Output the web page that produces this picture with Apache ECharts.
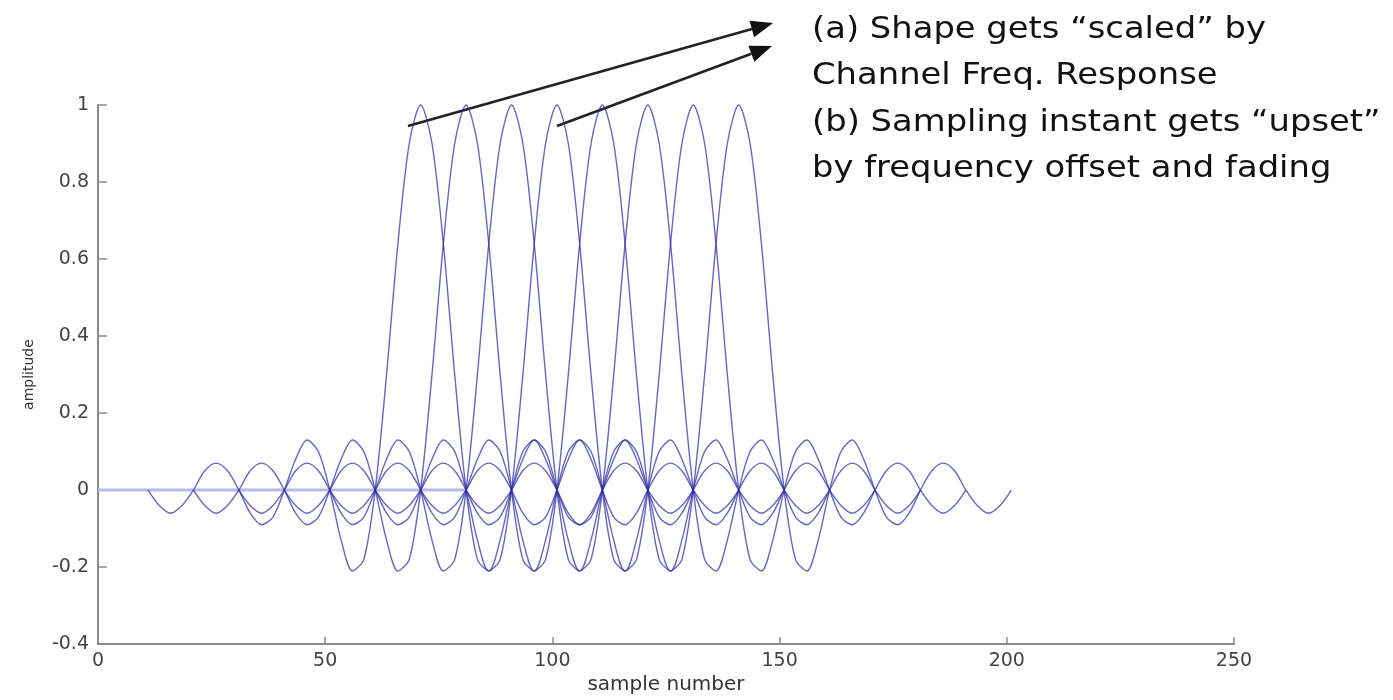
<!DOCTYPE html>
<html>
<head>
<meta charset="utf-8">
<title>sample number vs amplitude</title>
<script src="https://cdn.jsdelivr.net/npm/echarts@6/dist/echarts.min.js"></script>
<style>
  html, body { margin: 0; padding: 0; background: #fff; }
  #chart { width: 1393px; height: 700px; }
</style>
</head>
<body>
<div id="chart"></div>
<script>
// peak positions of the eight pulses (sample number)
let pulseCenters = [71, 81, 91, 101, 111, 121, 131, 141];

// pulse shape, relative to its peak
let pulseOffsets = [
  -60, -57.5, -55, -52.5, -50, -47.5, -45, -42.5, -40, -37.5, -35, -32.5,
  -30, -27.5, -25, -22.5, -20, -17.5, -15, -12.5, -10, -7.5, -5, -2.5,
  0,
  2.5, 5, 7.5, 10, 12.5, 15, 17.5, 20, 22.5, 25, 27.5, 30,
  32.5, 35, 37.5, 40, 42.5, 45, 47.5, 50, 52.5, 55, 57.5, 60
];
let pulseShape = [
  0, -0.04, -0.06, -0.04, 0, 0.05, 0.07, 0.05, 0, -0.06, -0.09, -0.07,
  0, 0.08, 0.13, 0.10, 0, -0.13, -0.21, -0.18, 0, 0.30, 0.64, 0.90,
  1,
  0.90, 0.64, 0.30, 0, -0.18, -0.21, -0.13, 0, 0.10, 0.13, 0.08, 0,
  -0.07, -0.09, -0.06, 0, 0.05, 0.07, 0.05, 0, -0.04, -0.06, -0.04, 0
];

// flat part of the trace on the left
let baselineX = [0, 81];
let baselineY = [0, 0];

let xTicks = { min: 0, max: 250, interval: 50 };
let yTicks = { min: -0.4, max: 1, interval: 0.2 };

let noteLines = [
  '(a) Shape gets \u201cscaled\u201d by',
  'Channel Freq. Response',
  '(b) Sampling instant gets \u201cupset\u201d',
  'by frequency offset and fading'
];

function arrow(x1, y1, x2, y2) {
  let dx = x2 - x1;
  let dy = y2 - y1;
  let len = Math.sqrt(dx * dx + dy * dy);
  let ux = dx / len;
  let uy = dy / len;
  let headLen = 22;
  let headHalf = 8.5;
  let bx = x2 - ux * headLen;
  let by = y2 - uy * headLen;
  return [
    {
      type: 'line',
      shape: { x1: x1, y1: y1, x2: bx, y2: by },
      style: { stroke: '#222', lineWidth: 2.6 }
    },
    {
      type: 'polygon',
      shape: {
        points: [
          [x2, y2],
          [bx - uy * headHalf, by + ux * headHalf],
          [bx + uy * headHalf, by - ux * headHalf]
        ]
      },
      style: { fill: '#111' }
    }
  ];
}

let chart = echarts.init(document.getElementById('chart'));

let series = pulseCenters.map(c => ({
  type: 'line',
  data: pulseOffsets.map((o, i) => [c + o, pulseShape[i]]),
  smooth: 0.3,
  symbol: 'none',
  clip: false,
  silent: true,
  lineStyle: { color: 'rgba(45, 45, 165, 0.72)', width: 1.4 }
}));

series.unshift({
  type: 'line',
  data: baselineX.map((x, i) => [x, baselineY[i]]),
  symbol: 'none',
  silent: true,
  lineStyle: { color: '#b8b8ea', width: 3 }
});

let graphics = [];
graphics = graphics.concat(arrow(408, 126, 773, 23));
graphics = graphics.concat(arrow(557, 126, 772, 46));

noteLines.forEach((t, i) => {
  graphics.push({
    type: 'text',
    x: 812,
    y: 14 + i * 46.5,
    scaleX: 1.09,
    style: {
      text: t,
      fill: '#111',
      font: '31px "DejaVu Sans"'
    }
  });
});

let option = {
  animation: false,
  backgroundColor: '#fff',
  grid: {
    left: 98,
    right: 159,
    top: 105,
    bottom: 43
  },
  xAxis: {
    type: 'value',
    min: xTicks.min,
    max: xTicks.max,
    interval: xTicks.interval,
    name: 'sample number',
    nameLocation: 'middle',
    nameGap: 24,
    nameTextStyle: { color: '#333', fontFamily: 'DejaVu Sans', fontSize: 20 },
    axisLine: { onZero: false, lineStyle: { color: '#8a8a8a', width: 2 } },
    axisTick: { inside: true, length: 7, lineStyle: { color: '#8a8a8a', width: 1.5 } },
    axisLabel: { color: '#444', fontFamily: 'DejaVu Sans', fontSize: 19, margin: 7 },
    splitLine: { show: false }
  },
  yAxis: {
    type: 'value',
    min: yTicks.min,
    max: yTicks.max,
    interval: yTicks.interval,
    name: 'amplitude',
    nameLocation: 'middle',
    nameGap: 62,
    nameTextStyle: { color: '#333', fontFamily: 'DejaVu Sans', fontSize: 14 },
    axisLine: { show: true, onZero: false, lineStyle: { color: '#8a8a8a', width: 2 } },
    axisTick: { show: true, inside: true, length: 9, lineStyle: { color: '#8a8a8a', width: 1.5 } },
    axisLabel: {
      color: '#444',
      fontFamily: 'DejaVu Sans',
      fontSize: 19,
      margin: 9,
      formatter: v => String(Math.round(v * 10) / 10)
    },
    splitLine: { show: false }
  },
  series: series,
  graphic: graphics
};

chart.setOption(option);
</script>
</body>
</html>
